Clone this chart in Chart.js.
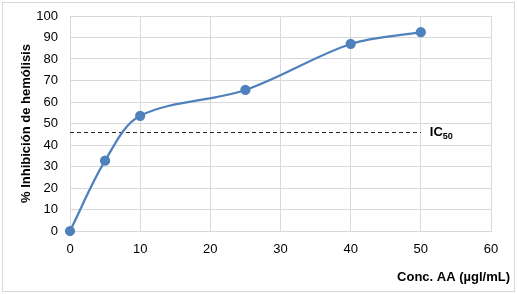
<!DOCTYPE html>
<html lang="es">
<head>
<meta charset="UTF-8">
<title>Inhibición de hemólisis</title>
<script src="https://cdn.jsdelivr.net/npm/chart.js"></script>
<style>
  html, body { margin: 0; padding: 0; background: #fff; }
  #wrap { width: 517px; height: 294px; }
</style>
</head>
<body>
<div id="wrap"><canvas id="chart" width="517" height="294"></canvas></div>
<script>
// concentraciones (µg/mL) y % de inhibición
const conc = [0, 5, 10, 25, 40, 50];
const inhibicion = [0, 32.7, 53.6, 65.6, 87, 92.5];
// línea IC50
const ic50X = [0, 50];
const ic50Y = 45.8;
const ic50Label = 'IC';
const ic50Sub = '50';

const FONT = "'Liberation Sans', Arial, sans-serif";

const extras = {
  id: 'extras',
  beforeDraw(chart) {
    const ctx = chart.ctx;
    ctx.save();
    ctx.strokeStyle = '#d9d9d9';
    ctx.lineWidth = 1;
    ctx.strokeRect(2.5, 2.5, 512, 289);
    ctx.restore();
  },
  afterDraw(chart) {
    const ctx = chart.ctx;
    const xs = chart.scales.x, ys = chart.scales.y;
    ctx.save();
    ctx.fillStyle = '#000';
    // etiqueta IC50
    const px = xs.getPixelForValue(ic50X[1]) + 9;
    const py = ys.getPixelForValue(ic50Y);
    ctx.font = 'bold 13px ' + FONT;
    ctx.textBaseline = 'middle';
    ctx.textAlign = 'left';
    ctx.fillText(ic50Label, px, py);
    const w = ctx.measureText(ic50Label).width;
    ctx.font = 'bold 9px ' + FONT;
    ctx.fillText(ic50Sub, px + w, py + 4);
    // título eje x
    ctx.font = 'bold 13px ' + FONT;
    ctx.textAlign = 'right';
    ctx.fillText('Conc. AA (µgl/mL)', 510, 277);
    ctx.restore();
  }
};

new Chart(document.getElementById('chart'), {
  type: 'line',
  data: {
    datasets: [
      {
        data: conc.map((c, i) => ({ x: c, y: inhibicion[i] })),
        borderColor: '#4f81bd',
        backgroundColor: '#4f81bd',
        borderWidth: 2.25,
        pointRadius: 4,
        pointHoverRadius: 4,
        tension: 0.33,
        clip: false
      },
      {
        data: ic50X.map(c => ({ x: c, y: ic50Y })),
        borderColor: '#222',
        borderWidth: 1,
        borderDash: [4, 3],
        pointRadius: 0,
        tension: 0
      }
    ]
  },
  options: {
    responsive: false,
    animation: false,
    layout: { padding: { top: 16, right: 26, bottom: 2, left: 0 } },
    plugins: { legend: { display: false }, tooltip: { enabled: false } },
    scales: {
      x: {
        type: 'linear',
        min: 0, max: 60,
        ticks: { stepSize: 10, color: '#000', padding: 11, font: { family: FONT, size: 13 } },
        grid: { color: '#d9d9d9', drawTicks: false },
        border: { color: '#d9d9d9' },
        afterFit(s) { s.height = 61; s.paddingLeft = 0; s.paddingRight = 0; }
      },
      y: {
        min: 0, max: 100,
        ticks: { stepSize: 10, color: '#000', padding: 12, font: { family: FONT, size: 13 } },
        grid: { color: '#d9d9d9', drawTicks: false },
        border: { color: '#d9d9d9' },
        title: {
          display: true,
          text: '% Inhibición de hemólisis',
          color: '#000',
          font: { family: FONT, size: 13, weight: 'bold' },
          padding: { top: 19, bottom: 0 }
        },
        afterFit(s) { s.width = 70; s.paddingTop = 0; s.paddingBottom = 0; }
      }
    }
  },
  plugins: [extras]
});
</script>
</body>
</html>
